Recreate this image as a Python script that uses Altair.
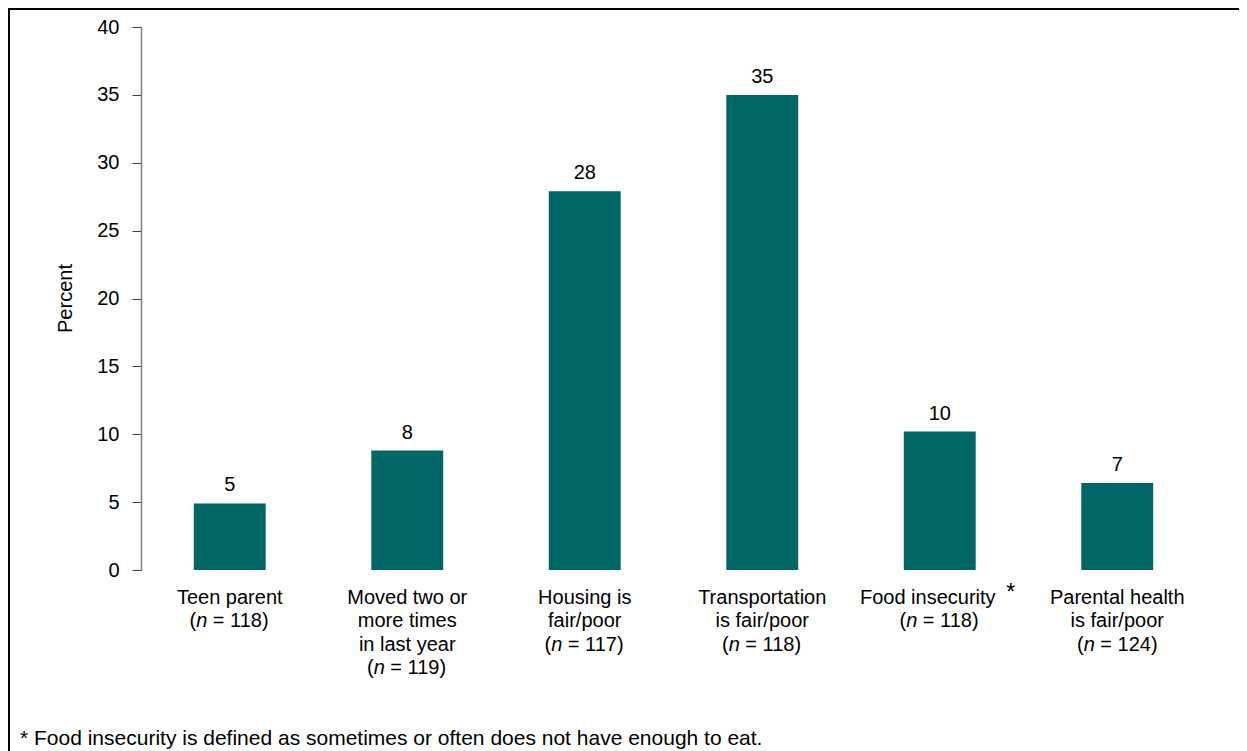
import altair as alt
import pandas as pd

# ---------------- data ----------------
label_lines = [
    ["Teen parent"],
    ["Moved two or", "more times", "in last year"],
    ["Housing is", "fair/poor"],
    ["Transportation", "is fair/poor"],
    ["Food insecurity"],
    ["Parental health", "is fair/poor"],
]
n_sizes = [118, 119, 117, 118, 118, 124]
percents = [4.9, 8.8, 27.9, 35.0, 10.2, 6.4]
value_labels = ["5", "8", "28", "35", "10", "7"]
y_ticks = [0, 5, 10, 15, 20, 25, 30, 35, 40]
x_bounds = [0, 1, 2, 3, 4, 5, 6]
starred = 4
y_title = "Percent"
footnote = "* Food insecurity is defined as sometimes or often does not have enough to eat."

# ---------------- style ----------------
FONT = "Liberation Sans"
FS = 20
TEAL = "#006666"
W, H = 1065, 543

bars = pd.DataFrame({"idx": list(range(len(percents))), "pct": percents, "label": value_labels})

rows, nrows = [], []
for i, lines in enumerate(label_lines):
    for k, t in enumerate(lines):
        rows.append({"idx": i, "line": k, "text": t,
                     "star": bool(i == starred and k == len(lines) - 1)})
    nrows.append({"idx": i, "line": len(lines), "rest": f"= {n_sizes[i]})"})
lines_df = pd.DataFrame(rows)
n_df = pd.DataFrame(nrows)
foot_df = pd.DataFrame({"t": [footnote]})
frame_df = pd.DataFrame({"t": [""]})

x_scale = alt.Scale(domain=[0, 6], nice=False, zero=False)
y_scale = alt.Scale(domain=[0, 40], nice=False)
line_scale = alt.Scale(domain=[0, 3], range=[571, 641], nice=False, zero=False)

x_axis = alt.Axis(values=x_bounds, labels=False, tickSize=7, domainColor="black",
                  tickColor="black", grid=False, title=None, domainWidth=1, tickWidth=1)
y_axis = alt.Axis(values=y_ticks, tickSize=9, domainColor="#808080", tickColor="#404040",
                  grid=False, labelPadding=13, title=y_title, titleX=-76, titleY=271,
                  titleAngle=270, titleAlign="center", titleBaseline="middle",
                  domainWidth=1.5, tickWidth=1)

bar_layer = alt.Chart(bars).transform_calculate(
    lo="datum.idx + 0.2975", hi="datum.idx + 0.7025"
).mark_rect(color=TEAL).encode(
    x=alt.X("lo:Q", scale=x_scale, axis=x_axis),
    x2="hi:Q",
    y=alt.Y("pct:Q", scale=y_scale, axis=y_axis),
    y2=alt.datum(0),
)

value_layer = alt.Chart(bars).transform_calculate(mid="datum.idx + 0.5").mark_text(
    font=FONT, fontSize=FS, baseline="alphabetic", dy=-12, color="black"
).encode(
    x=alt.X("mid:Q", scale=x_scale, axis=None),
    y=alt.Y("pct:Q", scale=y_scale, axis=None),
    text="label:N",
)


def label_chart(df, filt, **mark):
    base = alt.Chart(df).transform_calculate(mid="datum.idx + 0.5")
    if filt:
        base = base.transform_filter(filt)
    props = {"font": FONT, "fontSize": FS, "baseline": "middle", "color": "black"}
    props.update(mark)
    return base.mark_text(**props)


xl = alt.X("mid:Q", scale=x_scale, axis=None)
yl = alt.Y("line:Q", scale=line_scale, axis=None)

plain_lines = label_chart(lines_df, "!datum.star").encode(x=xl, y=yl, text="text:N")
star_line = label_chart(lines_df, "datum.star", dx=-12).encode(x=xl, y=yl, text="text:N")
star_mark = label_chart(lines_df, "datum.star", dx=71, dy=-5, fontSize=23).encode(
    x=xl, y=yl, text=alt.value("*"))

paren = label_chart(n_df, None, align="right", dx=-33.6).encode(x=xl, y=yl, text=alt.value("("))
n_ital = label_chart(n_df, None, align="left", dx=-33.6, fontStyle="italic").encode(
    x=xl, y=yl, text=alt.value("n"))
rest = label_chart(n_df, None, align="left", dx=-16.9).encode(x=xl, y=yl, text="rest:N")

foot_layer = alt.Chart(foot_df).mark_text(
    font=FONT, fontSize=21, align="left", baseline="alphabetic", color="black"
).encode(x=alt.value(-121), y=alt.value(718), text="t:N")

frame_layer = alt.Chart(frame_df).mark_rect(
    fillOpacity=0, stroke="black", strokeWidth=2
).encode(x=alt.value(-132), x2=alt.value(W + 80), y=alt.value(-18), y2=alt.value(H + 260))

chart = alt.layer(
    frame_layer, bar_layer, value_layer, plain_lines, star_line, star_mark,
    paren, n_ital, rest, foot_layer
).resolve_scale(y="independent").properties(
    width=W, height=H,
    autosize=alt.AutoSizeParams(type="none"),
    padding={"left": 133, "top": 19, "right": 33, "bottom": 181},
).configure_view(strokeWidth=0).configure_axis(
    labelFont=FONT, titleFont=FONT, labelFontSize=FS, titleFontSize=FS,
    labelColor="black", titleColor="black", titleFontWeight="normal"
)

chart.save("out.html", embed_options={"renderer": "svg", "actions": False})
